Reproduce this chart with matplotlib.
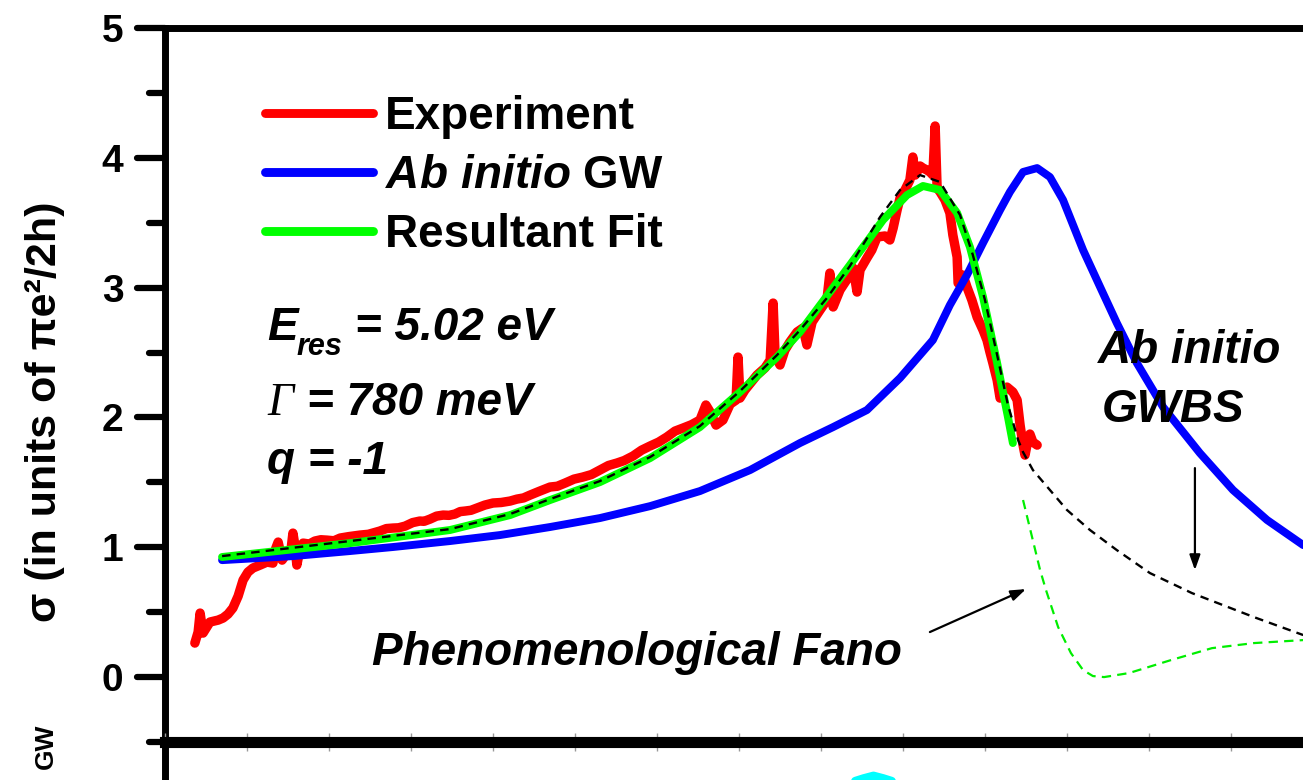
import matplotlib
matplotlib.use("Agg")
import matplotlib.pyplot as plt
from matplotlib.lines import Line2D
from matplotlib.markers import MarkerStyle, TICKLEFT
from matplotlib.ticker import MultipleLocator, NullLocator

plt.rcParams["font.family"] = ["Liberation Sans", "DejaVu Sans"]
plt.rcParams["font.weight"] = "bold"
plt.rcParams["mathtext.fontset"] = "custom"
plt.rcParams["mathtext.rm"] = "Liberation Sans:bold"
plt.rcParams["mathtext.bf"] = "Liberation Sans:bold"
plt.rcParams["mathtext.it"] = "Liberation Sans:italic:bold"

# ---------------- data (photon energy in eV, sigma in units of pi e^2 / 2h) ----
exp_E = [3.091, 3.101, 3.107, 3.116, 3.137, 3.162, 3.177, 3.192, 3.207, 3.223,
         3.238, 3.253, 3.268, 3.290, 3.311, 3.329, 3.338, 3.345, 3.357, 3.372,
         3.384, 3.390, 3.396, 3.402, 3.412, 3.421, 3.440, 3.457, 3.475, 3.494,
         3.515, 3.534, 3.560, 3.595, 3.620, 3.655, 3.675, 3.695, 3.712, 3.732,
         3.755, 3.777, 3.790, 3.808, 3.828, 3.848, 3.866, 3.884, 3.900, 3.915,
         3.933, 3.951, 3.975, 4.000, 4.025, 4.052, 4.073, 4.093, 4.113, 4.140,
         4.174, 4.196, 4.220, 4.247, 4.274, 4.300, 4.326, 4.352, 4.378, 4.400,
         4.427, 4.453, 4.479, 4.505, 4.530, 4.555, 4.579, 4.605, 4.631, 4.649,
         4.662, 4.680, 4.701, 4.723, 4.741, 4.747, 4.753, 4.768, 4.805, 4.829,
         4.845, 4.854, 4.860, 4.875, 4.890, 4.905, 4.927, 4.945, 4.957, 4.973,
         4.997, 5.018, 5.027, 5.037, 5.058, 5.082, 5.098, 5.110, 5.119, 5.140,
         5.155, 5.171, 5.195, 5.210, 5.220, 5.232, 5.241, 5.256, 5.271, 5.280,
         5.287, 5.293, 5.302, 5.311, 5.323, 5.332, 5.341, 5.348, 5.354, 5.363,
         5.378, 5.393, 5.402, 5.415, 5.418, 5.433, 5.445, 5.460, 5.476, 5.494,
         5.506, 5.515, 5.524, 5.537, 5.546, 5.555, 5.567, 5.585, 5.598, 5.607,
         5.616, 5.622, 5.631, 5.637, 5.646, 5.659]
exp_sigma = [0.262, 0.347, 0.493, 0.339, 0.424, 0.439, 0.455, 0.485, 0.532, 0.624,
             0.747, 0.809, 0.840, 0.863, 0.886, 0.878, 0.994, 1.040, 0.901, 0.955,
             0.978, 1.109, 1.017, 0.863, 0.994, 1.032, 1.025, 1.048, 1.058, 1.055,
             1.050, 1.071, 1.082, 1.094, 1.100, 1.125, 1.144, 1.148, 1.150, 1.163,
             1.190, 1.202, 1.200, 1.217, 1.240, 1.248, 1.246, 1.256, 1.275, 1.279,
             1.285, 1.302, 1.325, 1.341, 1.345, 1.356, 1.371, 1.380, 1.402, 1.430,
             1.464, 1.470, 1.495, 1.525, 1.541, 1.560, 1.595, 1.630, 1.649, 1.668,
             1.703, 1.748, 1.780, 1.810, 1.849, 1.895, 1.918, 1.944, 1.980, 2.096,
             2.042, 1.941, 1.980, 2.103, 2.134, 2.465, 2.149, 2.211, 2.327, 2.381,
             2.442, 2.881, 2.481, 2.404, 2.519, 2.581, 2.658, 2.689, 2.558, 2.735,
             2.827, 2.904, 3.112, 2.851, 2.982, 3.074, 3.151, 2.966, 3.136, 3.228,
             3.290, 3.390, 3.398, 3.367, 3.459, 3.598, 3.690, 3.752, 3.829, 4.006,
             3.867, 3.891, 3.937, 3.921, 3.906, 3.891, 3.867, 4.245, 3.767, 3.737,
             3.675, 3.575, 3.405, 3.236, 3.035, 3.097, 3.005, 2.904, 2.773, 2.673,
             2.596, 2.504, 2.419, 2.288, 2.149, 2.211, 2.234, 2.196, 2.134, 1.941,
             1.787, 1.710, 1.826, 1.872, 1.810, 1.787]

gw_E = [3.174, 3.390, 3.564, 3.695, 3.869, 4.021, 4.174, 4.326, 4.479, 4.631,
        4.784, 4.936, 5.037, 5.140, 5.241, 5.341, 5.393, 5.445, 5.494, 5.546,
        5.576, 5.616, 5.659, 5.698, 5.738, 5.799, 5.851, 5.902, 5.963, 6.043,
        6.155, 6.256, 6.360, 6.470]
gw_sigma = [0.901, 0.932, 0.971, 1.002, 1.048, 1.094, 1.156, 1.225, 1.317, 1.433,
            1.595, 1.803, 1.926, 2.057, 2.304, 2.596, 2.866, 3.097, 3.344, 3.598,
            3.737, 3.891, 3.921, 3.852, 3.675, 3.290, 3.005, 2.727, 2.419, 2.080,
            1.726, 1.441, 1.210, 1.017]

fit_E = [3.174, 3.564, 3.869, 4.052, 4.174, 4.326, 4.479, 4.631, 4.753, 4.866,
         4.936, 5.027, 5.088, 5.189, 5.262, 5.311, 5.363, 5.415, 5.454, 5.494,
         5.537, 5.570, 5.585]
fit_sigma = [0.925, 1.032, 1.133, 1.248, 1.364, 1.502, 1.687, 1.926, 2.196, 2.465,
             2.658, 2.966, 3.174, 3.521, 3.713, 3.783, 3.752, 3.575, 3.313, 2.928,
             2.419, 2.003, 1.803]

total_E = [3.174, 3.564, 3.869, 4.052, 4.174, 4.326, 4.479, 4.631, 4.753, 4.866,
           4.936, 5.018, 5.088, 5.180, 5.241, 5.302, 5.363, 5.424, 5.463, 5.500,
           5.537, 5.570, 5.601, 5.616, 5.646, 5.698, 5.750, 5.820, 5.902, 6.003,
           6.131, 6.320, 6.470]
total_sigma = [0.932, 1.048, 1.140, 1.256, 1.371, 1.510, 1.695, 1.934, 2.203, 2.481,
               2.673, 2.920, 3.166, 3.544, 3.752, 3.867, 3.814, 3.559, 3.251, 2.904,
               2.481, 2.096, 1.826, 1.733, 1.595, 1.441, 1.287, 1.133, 0.978, 0.801,
               0.647, 0.462, 0.324]

fano_E = [5.616, 5.668, 5.686, 5.723, 5.762, 5.799, 5.829, 5.863, 5.939, 6.067,
          6.192, 6.320, 6.470]
fano_sigma = [1.364, 0.824, 0.670, 0.385, 0.185, 0.054, 0.008, 0.000, 0.031, 0.131,
              0.223, 0.262, 0.285]

# lower panel (GW spectrum), only its top is in view
low_E = [4.90, 5.00, 5.08, 5.13, 5.16, 5.19, 5.24, 5.32, 5.42]
low_val = [4.30, 4.55, 4.68, 4.72, 4.74, 4.72, 4.68, 4.55, 4.30]

legend_labels = ["Experiment", r"$\mathit{Ab\ initio}$ GW", "Resultant Fit"]

# ---------------- figure ---------------------------------------------------------
W, H = 1303, 780
fig = plt.figure(figsize=(W / 100, H / 100), dpi=100)

x_left = 165 / W
y_bot = (H - 742) / H
ax_h = (742 - 28) / H
ax_w = (1500 - 165) / W
xlim = (3.0, 3.0 + (1500 - 165) / 328)

ax = fig.add_axes([x_left, y_bot, ax_w, ax_h])
ax2 = fig.add_axes([x_left, y_bot - ax_h, ax_w, ax_h])

for a in (ax, ax2):
    a.set_xlim(*xlim)
    a.set_ylim(-0.5, 5)
    a.patch.set_alpha(0)

# main panel frame
ax.spines["left"].set_linewidth(5)
ax.spines["top"].set_linewidth(5)
ax.spines["bottom"].set_visible(False)
ax.spines["right"].set_visible(False)
ax.yaxis.set_major_locator(MultipleLocator(1))
ax.yaxis.set_minor_locator(MultipleLocator(0.5))
ax.tick_params(axis="y", which="major", direction="out", length=20, width=4.5,
               labelsize=28, pad=10)
ax.tick_params(axis="y", which="minor", direction="out", length=11.5, width=4.5)
ax.tick_params(axis="x", which="both", bottom=False, top=False,
               labelbottom=False, labeltop=False)

# lower panel frame
ax2.spines["top"].set_linewidth(8)
ax2.spines["left"].set_linewidth(5)
ax2.spines["right"].set_visible(False)
ax2.spines["bottom"].set_visible(False)
ax2.xaxis.set_ticks_position("top")
ax2.xaxis.set_major_locator(MultipleLocator(0.25))
ax2.xaxis.set_minor_locator(NullLocator())
ax2.tick_params(axis="x", which="major", direction="inout", length=13, width=1.0,
                color="0.6", labeltop=False, labelbottom=False)
ax2.tick_params(axis="y", which="both", left=False, labelleft=False)
ax2.plot(low_E, low_val, color="#00ffff", lw=6, solid_capstyle="round", zorder=2)

# curves
ax.plot(exp_E, exp_sigma, color="#ff0000", lw=6.8, solid_capstyle="round",
        solid_joinstyle="round", zorder=2)
ax.plot(gw_E, gw_sigma, color="#0000ff", lw=5.7, solid_capstyle="round",
        solid_joinstyle="round", zorder=3)
ax.plot(fit_E, fit_sigma, color="#00ff00", lw=5.7, solid_capstyle="round",
        solid_joinstyle="round", zorder=4)
ax.plot(total_E, total_sigma, color="black", lw=1.7, dashes=(3.6, 2.6), zorder=5)
ax.plot(fano_E, fano_sigma, color="#00ee00", lw=1.6, dashes=(4.2, 2.8), zorder=5)

# legend
handles = [Line2D([], [], color=c, lw=6.4, solid_capstyle="round")
           for c in ("#ff0000", "#0000ff", "#00ff00")]
ax.legend(handles, legend_labels, loc="upper left",
          bbox_to_anchor=((265 - 165) / 1335, (742 - 95) / 714),
          frameon=False, fontsize=33, handlelength=2.35, handletextpad=0.27,
          labelspacing=0.33, borderaxespad=0, borderpad=0)

# fit parameters
par = dict(fontsize=33, fontweight="bold", fontstyle="italic", va="baseline")
ax.text(3.311, 2.596, "E", **par)
ax.text(3.402, 2.481, "res", fontsize=22, fontweight="bold", fontstyle="italic",
        va="baseline")
ax.text(3.579, 2.596, "= 5.02 eV", **par)
ax.text(3.311, 2.018, "Γ", fontsize=33, fontstyle="italic", fontweight="normal",
        family="Liberation Serif", va="baseline")
ax.text(3.433, 2.018, "= 780 meV", **par)
ax.text(3.311, 1.564, "q = -1", **par)

ax.text(5.845, 2.419, "Ab initio", **par)
ax.text(5.857, 1.965, "GWBS", **par)
ax.text(3.631, 0.092, "Phenomenological Fano", **par)

arrow = dict(arrowstyle="-|>,head_length=0.9,head_width=0.32", color="black",
             lw=1.6, shrinkA=0, shrinkB=0)
ax.annotate("", xy=(5.625, 0.678), xytext=(5.332, 0.347), arrowprops=arrow)
ax.annotate("", xy=(6.140, 0.824), xytext=(6.140, 1.610), arrowprops=arrow)

# axis labels
ax.set_ylabel("σ (in units of πe²/2h)", fontsize=31, fontweight="bold")
ax.yaxis.label.set_va("center")
ax.yaxis.set_label_coords((45 - 165) / 1335, (742 - 412) / 714)
fig.text(46 / W, 1 - 746 / H, "GW", rotation=90, ha="center", va="center",
         fontsize=19, fontweight="bold")

# rounded ends on the y tick marks
for tick in ax.yaxis.get_major_ticks() + ax.yaxis.get_minor_ticks():
    tick.tick1line.set_marker(MarkerStyle(TICKLEFT, capstyle="round"))

fig.savefig("out.png", dpi=100)
